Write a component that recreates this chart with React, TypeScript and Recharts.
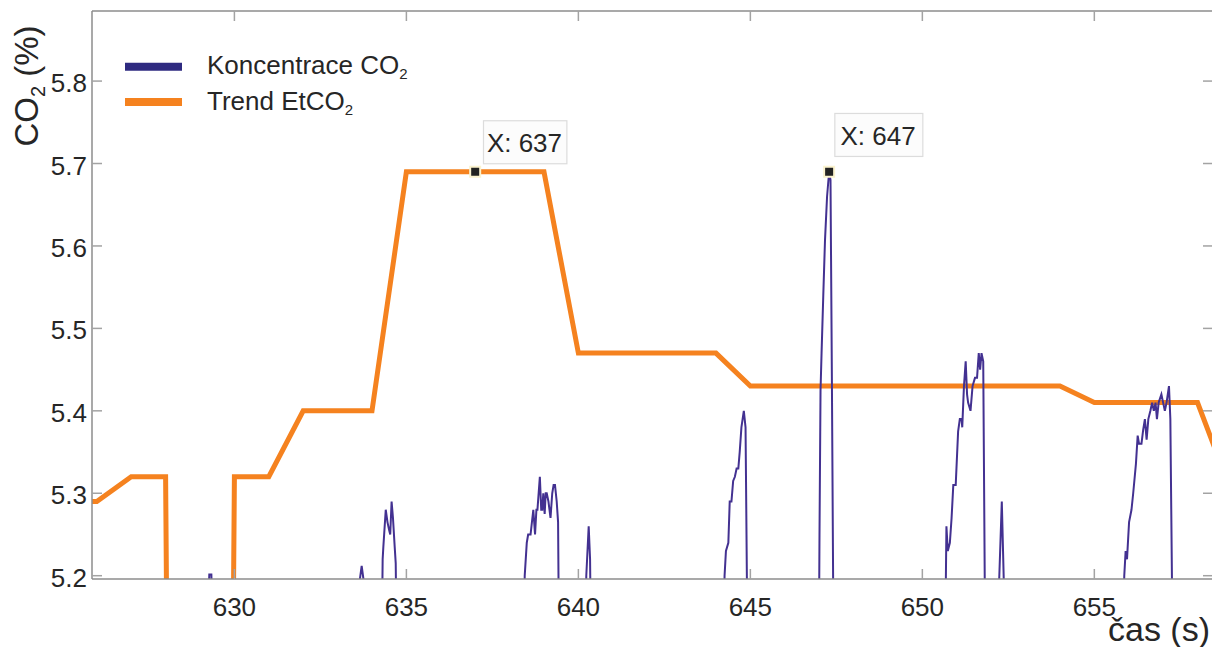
import React from 'react';
import { LineChart, Line, XAxis, YAxis, Legend, ReferenceDot } from 'recharts';

const FONT = '"Liberation Sans", Arial, Helvetica, sans-serif';
const TEXT = '#262626';
const AXIS = '#8c8c8c';
const TICK = '#a3a3a3';
const BLUE = '#433191';
const BLUE_LEG = '#2e2a80';
const ORANGE = '#f5821f';

const xTicks = [630, 635, 640, 645, 650, 655];
const yTicks = [5.2, 5.3, 5.4, 5.5, 5.6, 5.7, 5.8];
const xDomain = [625.86, 658.45];
const yDomain = [5.196, 5.885];

// Trend EtCO2
const trendTime = [625, 626, 627, 628, 629, 630, 631, 632, 633, 634, 635, 636, 637, 638, 639, 640, 641, 642, 643, 644, 645, 646, 647, 648, 649, 650, 651, 652, 653, 654, 655, 656, 657, 658, 659];
const trendValue = [5.29, 5.29, 5.32, 5.32, 0, 5.32, 5.32, 5.4, 5.4, 5.4, 5.69, 5.69, 5.69, 5.69, 5.69, 5.47, 5.47, 5.47, 5.47, 5.47, 5.43, 5.43, 5.43, 5.43, 5.43, 5.43, 5.43, 5.43, 5.43, 5.43, 5.41, 5.41, 5.41, 5.41, 5.3];

// Koncentrace CO2 (only the parts above 5.2 are visible)
const co2Time = [
  629.2, 629.27, 629.33, 629.4,
  633.63, 633.7, 633.77,
  634.28, 634.31, 634.33, 634.4, 634.45, 634.5, 634.53, 634.57, 634.61, 634.66, 634.69, 634.72,
  638.41, 638.44, 638.5, 638.54, 638.61, 638.69, 638.74, 638.78, 638.81, 638.88, 638.92, 638.95, 638.98, 639.02, 639.05, 639.08, 639.13, 639.19, 639.24, 639.28, 639.32, 639.37, 639.41, 639.44,
  640.2, 640.23, 640.3, 640.34, 640.37,
  644.22, 644.25, 644.29, 644.36, 644.4, 644.45, 644.5, 644.55, 644.6, 644.65, 644.69, 644.74, 644.81, 644.86, 644.92,
  646.99, 647.01, 647.04, 647.07, 647.12, 647.17, 647.23, 647.29, 647.33, 647.37, 647.42,
  650.66, 650.7, 650.74, 650.8, 650.85, 650.9, 650.97, 651.04, 651.09, 651.14, 651.16, 651.21, 651.26, 651.3, 651.33, 651.4, 651.46, 651.53, 651.59, 651.64, 651.68, 651.72, 651.77, 651.83,
  652.23, 652.31, 652.37,
  655.84, 655.87, 655.91, 655.95, 656.01, 656.08, 656.13, 656.21, 656.26, 656.3, 656.37, 656.42, 656.47, 656.52, 656.57, 656.63, 656.68, 656.73, 656.78, 656.82, 656.87, 656.95, 657.0, 657.05, 657.1, 657.17, 657.21, 657.28,
];
const co2Value = [
  5.1, 5.2015, 5.2015, 5.1,
  5.19, 5.212, 5.19,
  5.1, 5.22, 5.235, 5.28, 5.265, 5.255, 5.25, 5.29, 5.27, 5.235, 5.215, 5.1,
  5.1, 5.2, 5.24, 5.25, 5.25, 5.28, 5.25, 5.28, 5.28, 5.32, 5.28, 5.28, 5.3, 5.275, 5.3, 5.3, 5.29, 5.27, 5.3, 5.31, 5.31, 5.29, 5.265, 5.1,
  5.1, 5.2, 5.26, 5.22, 5.1,
  5.1, 5.2, 5.23, 5.24, 5.29, 5.29, 5.315, 5.32, 5.33, 5.33, 5.35, 5.38, 5.4, 5.38, 5.1,
  5.1, 5.25, 5.425, 5.47, 5.54, 5.607, 5.66, 5.69, 5.68, 5.44, 5.1,
  5.1, 5.26, 5.23, 5.24, 5.27, 5.31, 5.31, 5.375, 5.39, 5.39, 5.38, 5.43, 5.46, 5.42, 5.41, 5.4, 5.43, 5.44, 5.44, 5.47, 5.45, 5.47, 5.46, 5.1,
  5.19, 5.29, 5.19,
  5.1, 5.2, 5.23, 5.22, 5.265, 5.28, 5.3, 5.336, 5.37, 5.36, 5.36, 5.377, 5.39, 5.365, 5.39, 5.4, 5.41, 5.4, 5.41, 5.39, 5.41, 5.42, 5.41, 5.4, 5.41, 5.43, 5.39, 5.1,
];

// Data tips
const tipX = [637, 647.29];
const tipY = [5.69, 5.69];
const tipLabels = ['X: 637', 'X: 647'];

const trendData = trendTime.map((t, i) => ({ t, v: trendValue[i] }));
const co2Data = co2Time.map((t, i) => ({ t, v: co2Value[i] }));

const BottomTick = (p: any) => {
  const { x, y, payload } = p;
  return (
    <g>
      <line x1={x} x2={x} y1={y} y2={y - 10} stroke={TICK} strokeWidth={1.5} />
      <text x={x} y={y + 37} textAnchor="middle" fontSize={26} fill={TEXT} fontFamily={FONT}>
        {payload.value}
      </text>
    </g>
  );
};

const TopTick = (p: any) => {
  const { x, y } = p;
  return <line x1={x} x2={x} y1={y} y2={y + 10} stroke={TICK} strokeWidth={1.5} />;
};

const LeftTick = (p: any) => {
  const { x, y, payload } = p;
  return (
    <g>
      <line x1={x} x2={x + 10} y1={y} y2={y} stroke={TICK} strokeWidth={1.5} />
      <text x={x - 5} y={y + 11} textAnchor="end" fontSize={26} fill={TEXT} fontFamily={FONT}>
        {Number(payload.value).toFixed(1)}
      </text>
    </g>
  );
};

const RightTick = (p: any) => {
  const { x, y } = p;
  return <line x1={x} x2={x - 10} y1={y} y2={y} stroke={TICK} strokeWidth={1.5} />;
};

const YTitle = () => (
  <text transform="translate(38,86) rotate(-90)" textAnchor="middle" fontSize={33} fill={TEXT} fontFamily={FONT}>
    CO<tspan fontSize={20} dy={7}>2</tspan>
    <tspan dy={-7}> (%)</tspan>
  </text>
);

const XTitle = () => (
  <text x={1210} y={641} textAnchor="end" fontSize={34} fill={TEXT} fontFamily={FONT}>
    čas (s)
  </text>
);

const LegendBox = () => (
  <svg width={320} height={90} style={{ display: 'block' }}>
    <line x1={5} x2={62} y1={26.7} y2={26.7} stroke={BLUE_LEG} strokeWidth={8} />
    <text x={87} y={34} fontSize={26} fill={TEXT} fontFamily={FONT}>
      Koncentrace CO<tspan fontSize={15} dy={5}>2</tspan>
    </text>
    <line x1={5} x2={62} y1={62} y2={62} stroke={ORANGE} strokeWidth={8} />
    <text x={87} y={70} fontSize={26} fill={TEXT} fontFamily={FONT}>
      Trend EtCO<tspan fontSize={15} dy={5}>2</tspan>
    </text>
  </svg>
);

const makeTip = (label: string, dx: number, dy: number, w: number, pad: number) => (props: any) => {
  const { cx, cy } = props;
  return (
    <g>
      <rect x={cx + dx} y={cy + dy} width={w} height={43} fill="#fcfcfc" stroke="#dcdcdc" strokeWidth={1.2} />
      <text x={cx + dx + pad} y={cy + dy + 31.5} fontSize={26} fill={TEXT} fontFamily={FONT}>
        {label}
      </text>
      <rect x={cx - 6} y={cy - 6} width={12} height={12} fill="#fbf3cf" />
      <rect x={cx - 4} y={cy - 4} width={8} height={8} fill="#222222" />
    </g>
  );
};

const tipShapes = [makeTip(tipLabels[0], 8.3, -51, 83.4, 3.4), makeTip(tipLabels[1], 5.7, -58.3, 88, 5.7)];

export default function App() {
  return (
    <div style={{ position: 'absolute', left: 0, top: 0, width: 1212, height: 647, overflow: 'hidden', background: '#ffffff' }}>
      <LineChart width={1214} height={647} margin={{ top: 0, right: 0, bottom: 0, left: 0 }}>
        <XAxis
          dataKey="t"
          type="number"
          domain={xDomain}
          ticks={xTicks}
          allowDataOverflow
          height={68}
          axisLine={{ stroke: AXIS, strokeWidth: 1.5 }}
          tickLine={false}
          tickSize={0}
          tickMargin={0}
          tick={<BottomTick />}
          label={{ content: () => <XTitle /> }}
        />
        <XAxis
          xAxisId="top"
          orientation="top"
          dataKey="t"
          type="number"
          domain={xDomain}
          ticks={xTicks}
          allowDataOverflow
          height={11}
          axisLine={{ stroke: AXIS, strokeWidth: 1.5 }}
          tickLine={false}
          tickSize={0}
          tickMargin={0}
          tick={<TopTick />}
        />
        <YAxis
          type="number"
          domain={yDomain}
          ticks={yTicks}
          allowDataOverflow
          width={92}
          axisLine={{ stroke: AXIS, strokeWidth: 1.5 }}
          tickLine={false}
          tickSize={0}
          tickMargin={0}
          tick={<LeftTick />}
          label={{ content: () => <YTitle /> }}
        />
        <YAxis
          yAxisId="right"
          orientation="right"
          type="number"
          domain={yDomain}
          ticks={yTicks}
          allowDataOverflow
          width={1}
          axisLine={false}
          tickLine={false}
          tickSize={0}
          tickMargin={0}
          tick={<RightTick />}
        />
        <Legend
          layout="horizontal"
          verticalAlign="middle"
          align="center"
          wrapperStyle={{ left: 120, top: 40, width: 320, height: 90 }}
          content={() => <LegendBox />}
        />
        <Line
          data={trendData}
          dataKey="v"
          name="Trend EtCO2"
          type="linear"
          stroke={ORANGE}
          strokeWidth={5}
          dot={false}
          activeDot={false}
          isAnimationActive={false}
        />
        <Line
          data={co2Data}
          dataKey="v"
          name="Koncentrace CO2"
          type="linear"
          stroke={BLUE}
          strokeWidth={2}
          dot={false}
          activeDot={false}
          isAnimationActive={false}
        />
        <ReferenceDot x={tipX[0]} y={tipY[0]} r={6} shape={tipShapes[0]} />
        <ReferenceDot x={tipX[1]} y={tipY[1]} r={6} shape={tipShapes[1]} />
      </LineChart>
    </div>
  );
}
